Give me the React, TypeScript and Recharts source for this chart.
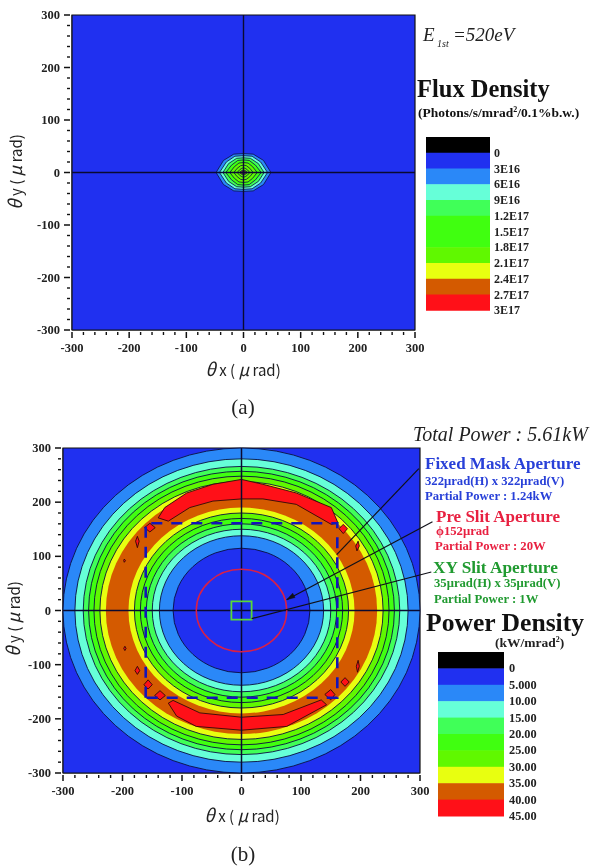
import { ScatterChart, Scatter, XAxis, YAxis } from "recharts";

type Pt = { x: number; y: number };

const BLACK = "#000000";
const BLUE = "#2030f0";
const LIGHT_BLUE = "#2a88f8";
const CYAN = "#66ffd8";
const GREEN_1 = "#40ff58";
const GREEN_2 = "#40ff10";
const GREEN_3 = "#60f800";
const YELLOW = "#e8ff10";
const ORANGE = "#d45a00";
const RED = "#ff1018";
const LINE = "#0a0f40";

const axisTicks = [
  -300, -280, -260, -240, -220, -200, -180, -160, -140, -120, -100, -80, -60, -40, -20, 0, 20, 40,
  60, 80, 100, 120, 140, 160, 180, 200, 220, 240, 260, 280, 300,
];

// (a) flux density: top right quadrant of each contour, outermost first
const fluxColors = [LIGHT_BLUE, CYAN, GREEN_1, GREEN_2, GREEN_3, GREEN_3, GREEN_3, YELLOW, ORANGE, RED];
const fluxContours: number[][][] = [
  [[48, 0], [35, 23], [17, 35], [0, 36]],
  [[42, 0], [30, 20], [15, 31], [0, 32]],
  [[36, 0], [26, 17], [12, 27], [0, 28]],
  [[31, 0], [21, 14], [10, 23], [0, 24]],
  [[24, 0], [16, 11], [8, 18], [0, 19]],
  [[17, 0], [11, 8], [5, 13], [0, 14]],
  [[11, 0], [7, 5], [3, 8], [0, 9]],
  [[7, 0], [4, 3], [0, 5]],
  [[5, 0], [3, 2], [0, 3.5]],
  [[3, 0], [0, 2]],
];
const fluxLegendColors = [BLACK, BLUE, LIGHT_BLUE, CYAN, GREEN_1, GREEN_2, GREEN_2, GREEN_3, YELLOW, ORANGE, RED];
const fluxLegendLabels = ["0", "3E16", "6E16", "9E16", "1.2E17", "1.5E17", "1.8E17", "2.1E17", "2.4E17", "2.7E17", "3E17"];

// (b) power density: ring radii in urad, outermost first
const ringRadii = [300, 280, 266, 257, 248, 238, 228, 190, 180, 170, 160, 150, 138, 115];
const ringFills = [LIGHT_BLUE, CYAN, GREEN_1, GREEN_2, GREEN_3, YELLOW, ORANGE, YELLOW, GREEN_3, GREEN_2, GREEN_1, CYAN, LIGHT_BLUE, BLUE];
const ringHasLine = [true, true, true, true, true, true, false, false, true, true, true, true, true, true];

const redPolygons: number[][][] = [
  [[-140, 171], [-129, 190], [-92, 217], [-48, 233], [0, 242], [36, 233], [92, 217], [151, 190], [162, 162], [151, 159], [92, 196], [36, 206], [0, 206], [-48, 202], [-87, 190], [-123, 165]],
  [[-123, -171], [-115, -166], [-70, -189], [0, -197], [70, -192], [134, -165], [143, -174], [76, -214], [0, -221], [-76, -214], [-109, -195]],
  [[-146, -157], [-137, -148], [-128, -157], [-137, -165]],
  [[-164, -137], [-157, -128], [-150, -137], [-157, -145]],
  [[-179, -111], [-175, -103], [-171, -111], [-175, -118]],
  [[-198, -70], [-196, -66], [-194, -70], [-196, -74]],
  [[140, -155], [150, -146], [157, -155], [150, -165]],
  [[167, -132], [174, -124], [181, -132], [174, -140]],
  [[193, -103], [196, -92], [198, -103], [195, -114]],
  [[-163, 153], [-154, 161], [-145, 153], [-154, 145]],
  [[-178, 128], [-175, 137], [-172, 128], [-175, 116]],
  [[-198, 92], [-197, 95], [-195, 92], [-197, 89]],
  [[164, 151], [171, 159], [178, 151], [171, 142]],
  [[192, 119], [196, 128], [198, 119], [194, 110]],
];

const maskHalf = 161;
const preSlitRadius = 76;
const xySlitHalf = 17;
const pointerLines: number[][][] = [
  [[298, 262], [160, 103]],
  [[321, 164], [76, 20]],
  [[319, 71], [17, -15]],
];
const pointerHead = [[76, 20], [90, 24], [86, 32]];
const powerLegendColors = [BLACK, BLUE, LIGHT_BLUE, CYAN, GREEN_1, GREEN_2, GREEN_3, YELLOW, ORANGE, RED];
const powerLegendLabels = ["0", "5.000", "10.00", "15.00", "20.00", "25.00", "30.00", "35.00", "40.00", "45.00"];

const toPts = (list: number[][]): Pt[] => list.map(([x, y]) => ({ x, y }));
const squarePts = (h: number): Pt[] => toPts([[-h, -h], [-h, h], [h, h], [h, -h]]);
const mirror = (q: number[][]): Pt[] => {
  const rev = [...q].reverse();
  return toPts([
    ...q,
    ...rev.map(([x, y]) => [-x, y]),
    ...q.map(([x, y]) => [-x, -y]),
    ...rev.map(([x, y]) => [x, -y]),
  ]);
};

const NoDot = () => <g />;

const polygonLine = (fill: string, stroke: string, strokeWidth = 1, dash?: string) => (props: any) => (
  <path
    d={props.points.map((p: Pt, i: number) => `${i ? "L" : "M"}${p.x},${p.y}`).join("") + "Z"}
    fill={fill}
    stroke={stroke}
    strokeWidth={strokeWidth}
    strokeDasharray={dash}
  />
);

const openLine = (stroke: string, strokeWidth: number) => (props: any) => (
  <path
    d={props.points.map((p: Pt, i: number) => `${i ? "L" : "M"}${p.x},${p.y}`).join("")}
    fill="none"
    stroke={stroke}
    strokeWidth={strokeWidth}
  />
);

// the two points are opposite corners of the ring's bounding box
const ringLine = (fill: string, stroke: string, strokeWidth = 1) => (props: any) => {
  const [a, b] = props.points;
  return (
    <ellipse
      cx={(a.x + b.x) / 2}
      cy={(a.y + b.y) / 2}
      rx={Math.abs(b.x - a.x) / 2}
      ry={Math.abs(b.y - a.y) / 2}
      fill={fill}
      stroke={stroke}
      strokeWidth={strokeWidth}
    />
  );
};

const series = (key: string, data: Pt[], line: any) => (
  <Scatter key={key} data={data} line={line} shape={NoDot} isAnimationActive={false} />
);

const SERIF = "'Liberation Serif', serif";

const XTick = ({ x, y, payload }: any) => {
  const major = payload.value % 100 === 0;
  return (
    <g>
      <line x1={x} x2={x} y1={y} y2={y + (major ? 6 : 3)} stroke="#111" strokeWidth={major ? 1.5 : 1.4} />
      {major && (
        <text x={x} y={y + 20} textAnchor="middle" fontFamily={SERIF} fontWeight="bold" fontSize={12.5} fill="#222">
          {payload.value}
        </text>
      )}
    </g>
  );
};

const YTick = ({ x, y, payload }: any) => {
  const major = payload.value % 100 === 0;
  return (
    <g>
      <line x1={x} x2={x - (major ? 6 : 3)} y1={y} y2={y} stroke="#111" strokeWidth={major ? 1.5 : 1.4} />
      {major && (
        <text x={x - 10} y={y + 4} textAnchor="end" fontFamily={SERIF} fontWeight="bold" fontSize={12.5} fill="#222">
          {payload.value}
        </text>
      )}
    </g>
  );
};

const axes = (yWidth: number) => [
  <XAxis
    key="x"
    type="number"
    dataKey="x"
    domain={[-300, 300]}
    ticks={axisTicks}
    interval={0}
    height={30}
    tickSize={0}
    tickLine={false}
    tick={XTick}
    stroke="#111"
  />,
  <YAxis
    key="y"
    type="number"
    dataKey="y"
    domain={[-300, 300]}
    ticks={axisTicks}
    interval={0}
    width={yWidth}
    tickSize={0}
    tickLine={false}
    tick={YTick}
    stroke="#111"
  />,
];

const frame = squarePts(300);
const axisX = toPts([[-300, 0], [300, 0]]);
const axisY = toPts([[0, -300], [0, 300]]);

function FluxChart() {
  return (
    <ScatterChart width={445} height={360} margin={{ top: 15, right: 30, bottom: 0, left: 0 }}>
      {axes(72)}
      {series("bg", frame, polygonLine(BLUE, "#111", 1.2))}
      {fluxContours.map((c, i) => series(`flux${i}`, mirror(c), polygonLine(fluxColors[i], LINE, 0.8)))}
      {series("ax", axisX, openLine("#0a0a30", 1.4))}
      {series("ay", axisY, openLine("#0a0a30", 1.4))}
    </ScatterChart>
  );
}

function PowerChart() {
  return (
    <ScatterChart width={450} height={383} margin={{ top: 28, right: 30, bottom: 0, left: 0 }}>
      {axes(63)}
      {series("bg", frame, polygonLine(BLUE, "#111", 1.2))}
      {ringRadii.map((r, i) =>
        series(`ring${i}`, toPts([[-r, -r], [r, r]]), ringLine(ringFills[i], ringHasLine[i] ? LINE : "none", 0.9))
      )}
      {redPolygons.map((p, i) => series(`red${i}`, toPts(p), polygonLine(RED, "#300808", 0.9)))}
      {series("ax", axisX, openLine("#0a0a30", 1.5))}
      {series("ay", axisY, openLine("#0a0a30", 1.5))}
      {series("mask", squarePts(maskHalf), polygonLine("none", "#1414b8", 2.6, "11 9"))}
      {series("preslit", toPts([[-preSlitRadius, -preSlitRadius], [preSlitRadius, preSlitRadius]]), ringLine("none", "#d82048", 1.5))}
      {series("xyslit", squarePts(xySlitHalf), polygonLine("none", "#58d838", 1.8))}
    </ScatterChart>
  );
}

// leader lines run past the plot edge, so they get their own wider x domain on the same scale
function PointerChart() {
  return (
    <ScatterChart width={450} height={383} margin={{ top: 28, right: 6.2, bottom: 30, left: 63 }}>
      <XAxis hide type="number" dataKey="x" domain={[-300, 340]} />
      <YAxis hide type="number" dataKey="y" domain={[-300, 300]} />
      {pointerLines.map((p, i) => series(`ptr${i}`, toPts(p), openLine("#101018", 1.2)))}
      {series("head", toPts(pointerHead), polygonLine("#101018", "#101018", 0.5))}
    </ScatterChart>
  );
}

const T = ({ x, y, size, color = "#111", bold, italic, anchor, children }: any) => (
  <text
    x={x}
    y={y}
    fontSize={size}
    fill={color}
    fontFamily={SERIF}
    fontWeight={bold ? "bold" : "normal"}
    fontStyle={italic ? "italic" : "normal"}
    textAnchor={anchor}
  >
    {children}
  </text>
);

const AxisTitle = ({ x, y, name, rotate }: any) => (
  <text
    x={x}
    y={y}
    textAnchor="middle"
    fontFamily="'Noto Sans CJK JP', sans-serif"
    fontSize={15}
    fill="#222"
    transform={rotate ? `rotate(-90 ${x} ${y})` : undefined}
  >
    <tspan fontStyle="italic" fontSize={18}>θ</tspan> {name} ( <tspan fontStyle="italic" fontSize={17}>μ</tspan> rad)
  </text>
);

const Legend = ({ x, y, width, band, colors, labels, labelX, fontSize }: any) => (
  <g>
    {colors.map((c: string, i: number) => (
      <rect key={c + i} x={x} y={y + i * band} width={width} height={band + 0.5} fill={c} />
    ))}
    {labels.map((l: string, i: number) => (
      <T key={l} x={labelX} y={y + (i + 1) * band + 4} size={fontSize} bold color="#222">
        {l}
      </T>
    ))}
  </g>
);

const BLUE_TEXT = "#2840d8";
const RED_TEXT = "#e82040";
const GREEN_TEXT = "#209a30";

export default function App() {
  return (
    <div
      style={{
        position: "absolute",
        left: 0,
        top: 0,
        width: 599,
        height: 866,
        background: "#fff",
        overflow: "hidden",
        filter: "blur(0.45px)",
      }}
    >
      <div style={{ position: "absolute", left: 0, top: 0 }}>
        <FluxChart />
      </div>
      <div style={{ position: "absolute", left: 0, top: 420 }}>
        <PowerChart />
      </div>
      <div style={{ position: "absolute", left: 0, top: 420 }}>
        <PointerChart />
      </div>
      <svg width={599} height={866} style={{ position: "absolute", left: 0, top: 0, pointerEvents: "none" }}>
        <AxisTitle x={243} y={376} name="x" />
        <AxisTitle x={22} y={172} name="y" rotate />
        <T x={243} y={414} size={21} anchor="middle" color="#222">(a)</T>
        <T x={423} y={41} size={19} italic color="#222">E</T>
        <T x={437} y={47} size={10} italic color="#222">1st</T>
        <T x={453} y={41} size={19} italic color="#222">=520eV</T>
        <T x={417} y={97} size={24.5} bold>Flux Density</T>
        <T x={418} y={117} size={13.5} bold>
          (Photons/s/mrad<tspan fontSize={8} dy={-5}>2</tspan><tspan dy={5}>/0.1%b.w.)</tspan>
        </T>
        <Legend x={426} y={137} width={64} band={15.75} colors={fluxLegendColors} labels={fluxLegendLabels} labelX={494} fontSize={12} />

        <AxisTitle x={242} y={822} name="x" />
        <AxisTitle x={20} y={619} name="y" rotate />
        <T x={243} y={861} size={21} anchor="middle" color="#222">(b)</T>
        <T x={413} y={441} size={20} italic color="#222">Total Power : 5.61kW</T>
        <T x={425} y={469} size={17} bold color={BLUE_TEXT}>Fixed Mask Aperture</T>
        <T x={425} y={485} size={12.7} bold color={BLUE_TEXT}>322μrad(H) x 322μrad(V)</T>
        <T x={425} y={500} size={12.7} bold color={BLUE_TEXT}>Partial Power : 1.24kW</T>
        <T x={436} y={522} size={17} bold color={RED_TEXT}>Pre Slit Aperture</T>
        <T x={436} y={535} size={12.7} bold color={RED_TEXT}>ϕ152μrad</T>
        <T x={435} y={550} size={12.7} bold color={RED_TEXT}>Partial Power : 20W</T>
        <T x={433} y={573} size={17.3} bold color={GREEN_TEXT}>XY Slit Aperture</T>
        <T x={434} y={587} size={12.7} bold color={GREEN_TEXT}>35μrad(H) x 35μrad(V)</T>
        <T x={434} y={603} size={12.7} bold color={GREEN_TEXT}>Partial Power : 1W</T>
        <T x={426} y={631} size={25.6} bold>Power Density</T>
        <T x={495} y={647} size={13.5} bold color="#222">
          (kW/mrad<tspan fontSize={8} dy={-5}>2</tspan><tspan dy={5}>)</tspan>
        </T>
        <Legend x={438} y={652} width={66} band={16.4} colors={powerLegendColors} labels={powerLegendLabels} labelX={509} fontSize={12.3} />
      </svg>
    </div>
  );
}
